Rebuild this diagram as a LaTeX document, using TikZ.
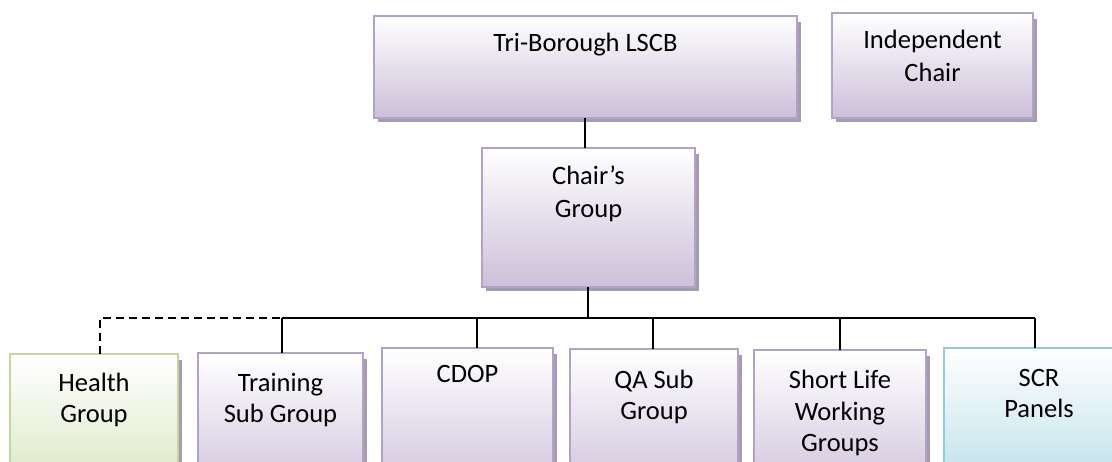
\documentclass[tikz,border=0pt]{standalone}
\usepackage{fontspec}
\setmainfont{Carlito}
\usetikzlibrary{backgrounds}
\definecolor{purB}{RGB}{179,162,199}
\definecolor{purF}{RGB}{204,192,218}
\definecolor{grnB}{RGB}{195,214,155}
\definecolor{grnF}{RGB}{215,228,189}
\definecolor{bluB}{RGB}{147,205,221}
\definecolor{bluF}{RGB}{183,222,232}
\definecolor{shad}{RGB}{165,156,175}
\tikzset{
  boxp/.style={draw=purB, line width=2.5pt, top color=white, bottom color=purF, anchor=north west, inner sep=0pt, outer sep=0pt},
  boxg/.style={draw=grnB, line width=2.5pt, top color=white, bottom color=grnF, anchor=north west, inner sep=0pt, outer sep=0pt},
  boxb/.style={draw=bluB, line width=2.5pt, top color=white, bottom color=bluF, anchor=north west, inner sep=0pt, outer sep=0pt},
  lbl/.style={anchor=base, align=center, inner sep=0pt, font=\fontsize{26.5}{33.5}\selectfont},
  lblb/.style={anchor=base, align=center, inner sep=0pt, font=\fontsize{26.5}{32}\selectfont},
  conn/.style={line width=1.8pt, black},
  dconn/.style={line width=1.8pt, black, dash pattern=on 8pt off 5pt},
}
\newcommand{\shadowof}[1]{\fill[shad] ([shift={(4pt,-6pt)}]#1.north west) rectangle ([shift={(4pt,-4pt)}]#1.south east);}
\begin{document}
\begin{tikzpicture}[x=1pt,y=-1pt]
\useasboundingbox (0,0) rectangle (1112,462);
\clip (0,0) rectangle (1112,462);
% boxes
\node[boxp, minimum width=423pt, minimum height=102pt] (tri) at (374,16) {};
\node[boxp, minimum width=201pt, minimum height=105pt] (ind) at (832,13) {};
\node[boxp, minimum width=213pt, minimum height=139pt] (chair) at (482,148) {};
\node[boxg, minimum width=168pt, minimum height=150pt] (health) at (10,354) {};
\node[boxp, minimum width=165pt, minimum height=150pt] (train) at (198,353) {};
\node[boxp, minimum width=171pt, minimum height=150pt] (cdop) at (382,348) {};
\node[boxp, minimum width=168pt, minimum height=150pt] (qa) at (570,349) {};
\node[boxp, minimum width=172pt, minimum height=150pt] (slw) at (754,350) {};
\node[boxb, minimum width=190pt, minimum height=150pt] (scr) at (944,348) {};
% shadows (behind)
\begin{scope}[on background layer]
\fill[white] (0,0) rectangle (1112,462);
\shadowof{tri}
\shadowof{ind}
\shadowof{chair}
\shadowof{health}
\shadowof{train}
\shadowof{cdop}
\shadowof{qa}
\shadowof{slw}
\end{scope}
% labels (base anchor = baseline of the last line)
\node[lbl] (tri-t) at ([yshift=-36pt]tri.north) {Tri-Borough LSCB};
\node[lbl] (ind-t) at ([yshift=-69pt]ind.north) {Independent\\Chair};
\node[lbl] (chair-t) at ([yshift=-70pt]chair.north) {Chair’s\\Group};
\node[lblb] (health-t) at ([yshift=-69pt]health.north) {Health\\Group};
\node[lblb] (train-t) at ([yshift=-70pt]train.north) {Training\\Sub Group};
\node[lblb] (cdop-t) at ([yshift=-35pt]cdop.north) {CDOP};
\node[lblb] (qa-t) at ([yshift=-71pt]qa.north) {QA Sub\\Group};
\node[lblb] (slw-t) at ([yshift=-102pt]slw.north) {Short Life\\Working\\Groups};
\node[lblb] (scr-t) at ([yshift=-70pt]scr.north) {SCR\\Panels};
% bus coordinates
\coordinate (jh) at (100,318);
\coordinate (jt) at (282,318);
\coordinate (jc) at (477,318);
\coordinate (jm) at (588,318);
\coordinate (jq) at (653,318);
\coordinate (js) at (840,318);
\coordinate (jr) at (1035,318);
\coordinate (jtop) at (585,0);
% connectors
\draw[conn] (tri.south -| jtop) -- (chair.north -| jtop);
\draw[conn] (chair.south -| jm) -- (jm);
\draw[conn] (jt) -- (jr);
\draw[dconn] (health.north -| jh) |- (jt);
\draw[conn] (jt) -- (train.north -| jt);
\draw[conn] (jc) -- (cdop.north -| jc);
\draw[conn] (jq) -- (qa.north -| jq);
\draw[conn] (js) -- (slw.north -| js);
\draw[conn] (jr) -- (scr.north -| jr);
\end{tikzpicture}
\end{document}
